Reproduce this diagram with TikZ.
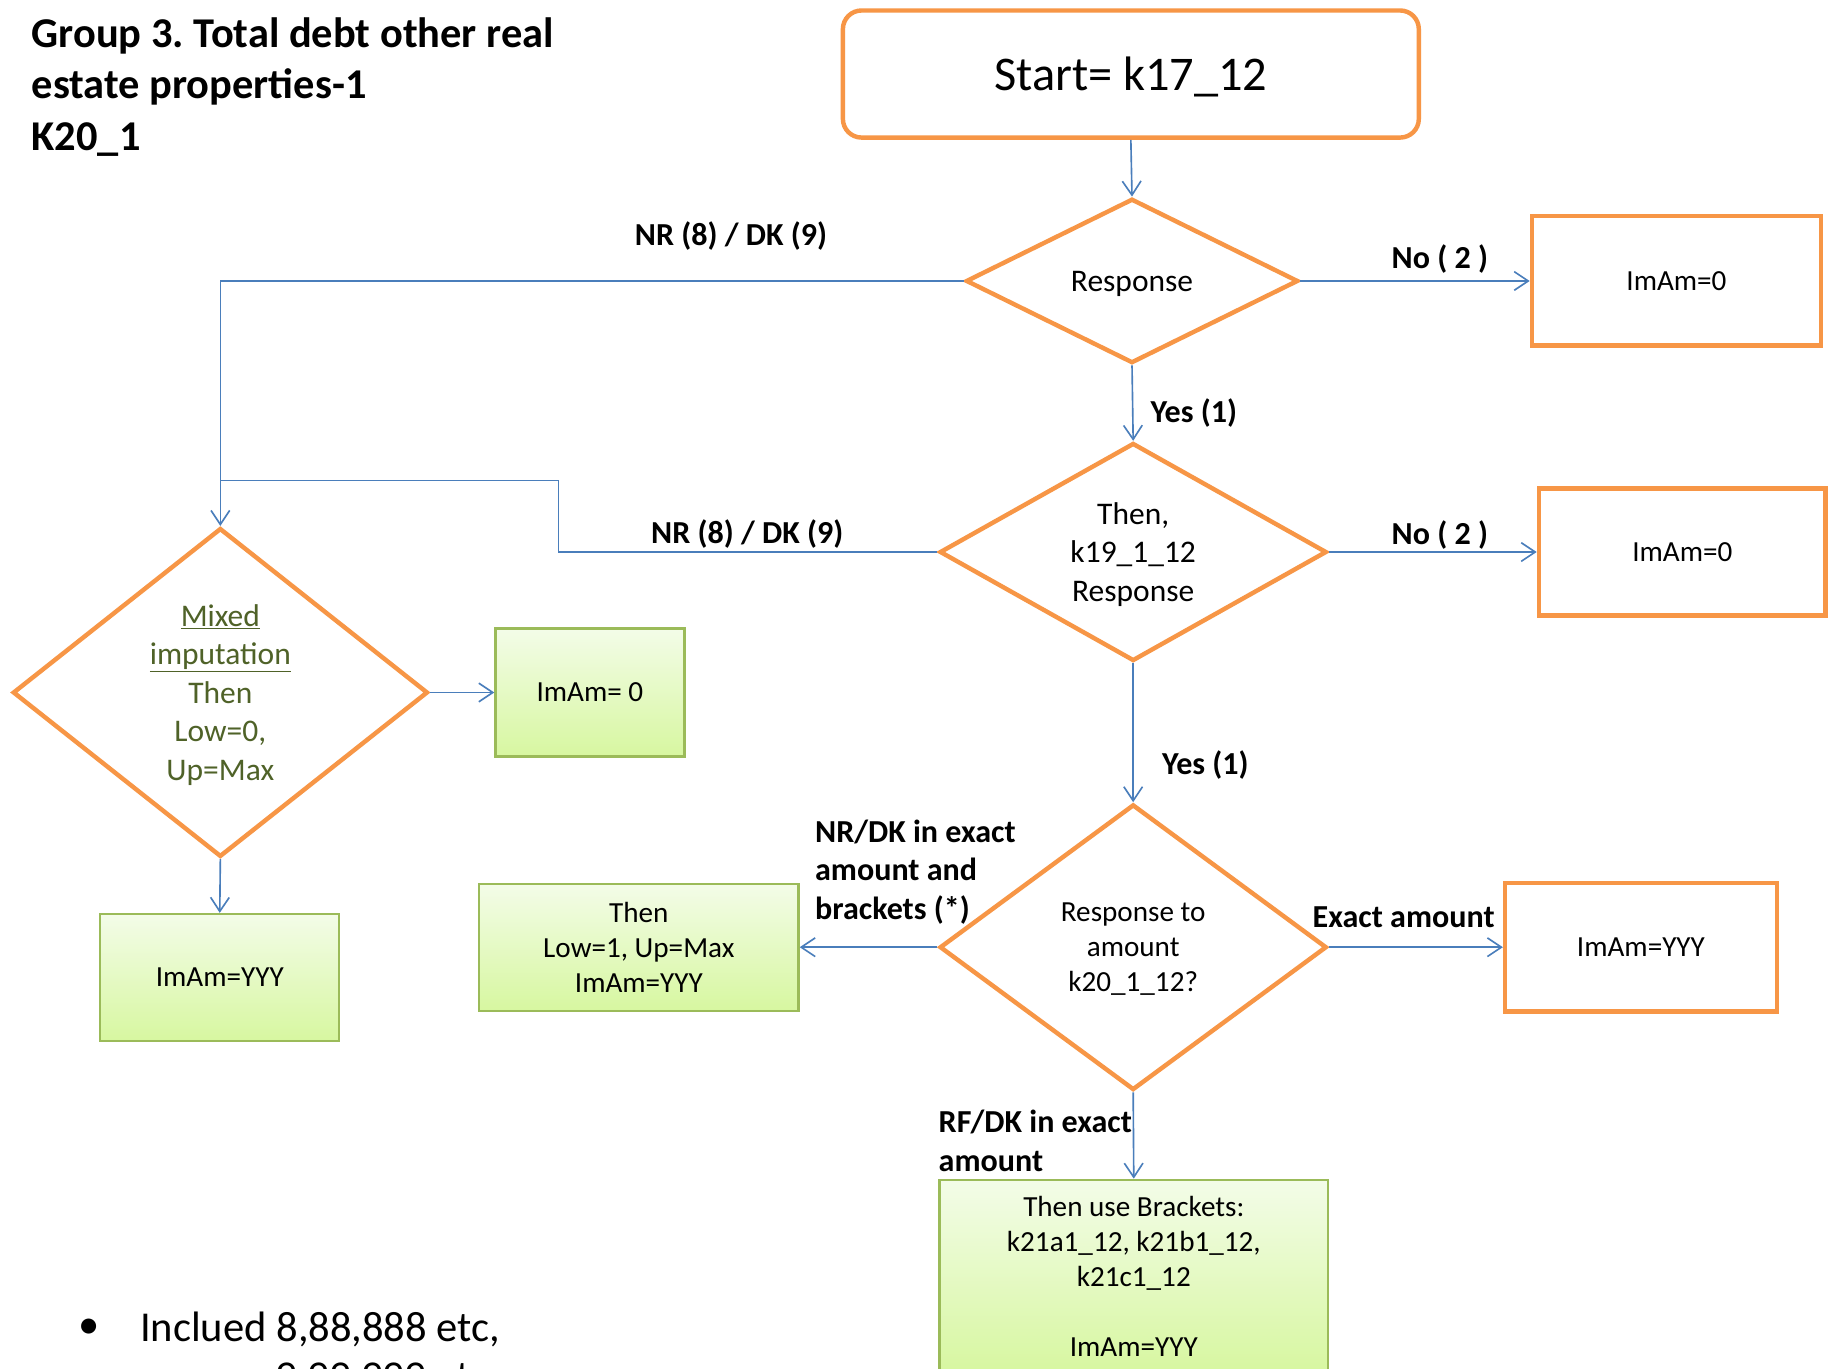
\documentclass[tikz,border=0pt]{standalone}
\usepackage{fontspec}
\setmainfont{Carlito}
\usetikzlibrary{shapes.geometric,arrows.meta}
\definecolor{orng}{HTML}{F79646}
\definecolor{connc}{HTML}{4A7EBB}
\definecolor{gbord}{HTML}{9BBB59}
\definecolor{gtop}{HTML}{F3FCE8}
\definecolor{gbot}{HTML}{D7F7A0}
\definecolor{olivetext}{HTML}{4F6228}
\frenchspacing
\begin{document}
\begin{tikzpicture}[x=1pt,y=-1pt,
  orangebox/.style={draw=orng, line width=3.8pt, inner sep=0pt, text depth=0pt, align=center, font=\fontsize{25}{30}\selectfont},
  greenbox/.style={draw=gbord, line width=2pt, top color=gtop, bottom color=gbot, inner sep=0pt, align=center, font=\fontsize{25}{30}\selectfont},
  decision/.style={diamond, draw=orng, line width=3.8pt, line join=miter, inner sep=0pt, text depth=0pt, align=center, font=\fontsize{27}{33}\selectfont},
  connector/.style={draw=connc, line width=1.4pt, -{Straight Barb[length=12pt,width=16pt]}},
  plainline/.style={draw=connc, line width=1.4pt},
  lbl/.style={font=\bfseries\fontsize{27.5}{33}\selectfont, inner sep=0pt, text depth=0pt},
]
\clip (0,0) rectangle (1568,1174);
\useasboundingbox (0,0) rectangle (1568,1174);
\fill[white] (0,0) rectangle (1568,1174);

% title
\node[anchor=north west, align=left, inner sep=0pt, font=\bfseries\fontsize{36.4}{44}\selectfont] (title) at (27,15) {Group 3. Total debt other real\\estate properties-1\\K20\_1};

% nodes
\node[orangebox, rounded corners=16pt, minimum width=494pt, minimum height=109pt, font=\fontsize{41.5}{48}\selectfont] (start) at (970,63.5) {Start= k17\_12};
\node[decision, minimum width=285pt, minimum height=141pt, shape aspect=2] (d1) at (971,241) {Response};
\node[orangebox, minimum width=248pt, minimum height=111pt] (no1) at (1438,241) {ImAm=0};
\node[decision, minimum width=332pt, minimum height=187pt, shape aspect=1.78] (d2) at (972,473.5) {Then,\\k19\_1\_12\\Response};
\node[orangebox, minimum width=246pt, minimum height=109pt] (no2) at (1443,473.5) {ImAm=0};
\node[decision, minimum width=332pt, minimum height=245pt, shape aspect=1.36, font=\fontsize{25}{30}\selectfont] (d3) at (972,812.5) {Response to\\amount\\k20\_1\_12?};
\node[orangebox, minimum width=233pt, minimum height=110pt] (exact) at (1407.5,812.5) {ImAm=YYY};
\node[greenbox, minimum width=274pt, minimum height=109pt] (nrdk) at (548,812.5) {Then\\Low=1, Up=Max\\ImAm=YYY};
\node[greenbox, minimum width=333pt, minimum height=166pt] (brk) at (972.5,1095) {Then use Brackets:\\k21a1\_12, k21b1\_12,\\k21c1\_12\\[30pt]ImAm=YYY};
\node[decision, minimum width=356pt, minimum height=282pt, shape aspect=1.26, text=olivetext, font=\fontsize{27}{33}\selectfont] (mixed) at (189,594) {\underline{Mixed}\\\underline{imputation}\\Then\\Low=0,\\Up=Max};
\node[greenbox, minimum width=162pt, minimum height=110pt] (imam0) at (506,594) {ImAm= 0};
\node[greenbox, minimum width=205pt, minimum height=109pt] (yyy) at (188.5,838.5) {ImAm=YYY};

% connectors
\coordinate (join) at (189,412);
\draw[connector] (start.south) -- (d1.north);
\draw[connector] (d1.east) -- (no1.west);
\draw[connector] (d1.west) -| (mixed.north);
\draw[connector] (d1.south) -- (d2.north);
\draw[connector] (d2.east) -- (no2.west);
\draw[plainline] (d2.west) -- ++(-325,0) |- (join);
\draw[connector] (d2.south) -- (d3.north);
\draw[connector] (d3.east) -- (exact.west);
\draw[connector] (d3.west) -- (nrdk.east);
\draw[connector] (d3.south) -- (brk.north);
\draw[connector] (mixed.east) -- (imam0.west);
\draw[connector] (mixed.south) -- (yyy.north);

% labels
\node[lbl] (l1) at (627,200) {NR (8) / DK (9)};
\node[lbl] (l2) at (1235,220) {No ( 2 )};
\node[lbl] (l3) at (1024,352) {Yes (1)};
\node[lbl] (l4) at (641,456) {NR (8) / DK (9)};
\node[lbl] (l5) at (1235,457) {No ( 2 )};
\node[lbl] (l6) at (1034,654) {Yes (1)};
\node[lbl, anchor=west, align=left] (l7) at (699,746) {NR/DK in exact\\amount and\\brackets (*)};
\node[lbl] (l8) at (1204,787) {Exact amount};
\node[lbl, anchor=west, align=left] (l9) at (805,978.5) {RF/DK in exact\\amount};

% bullet text
\node[anchor=west, inner sep=0pt, font=\fontsize{36.5}{43}\selectfont] (bul) at (67,1140) {\textbullet};
\node[anchor=west, inner sep=0pt, font=\fontsize{36.5}{43}\selectfont] (inc1) at (120,1140) {Inclued 8,88,888 etc,};
\node[anchor=west, inner sep=0pt, font=\fontsize{36.5}{43}\selectfont] (inc2) at (236,1183) {9,99,999 etc};
\end{tikzpicture}
\end{document}
